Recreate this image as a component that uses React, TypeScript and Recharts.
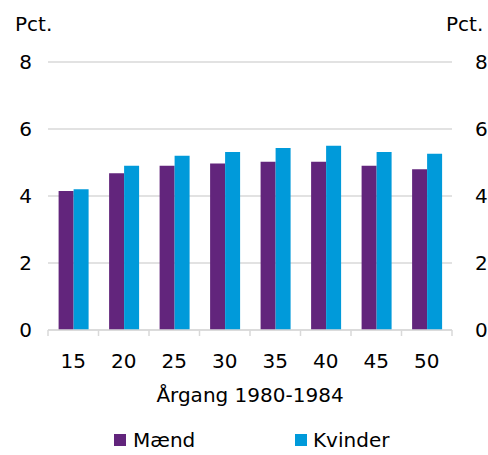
import React from 'react';
import { Bar, BarChart, CartesianGrid, XAxis, YAxis } from 'recharts';

const ages = ['15', '20', '25', '30', '35', '40', '45', '50'];
const maend = [4.15, 4.68, 4.9, 4.97, 5.02, 5.02, 4.9, 4.8];
const kvinder = [4.2, 4.9, 5.2, 5.31, 5.43, 5.5, 5.31, 5.26];
const yTicks = [0, 2, 4, 6, 8];

const PURPLE = '#62257C';
const BLUE = '#009ADA';
const GRID = '#D9D9D9';
const FONT = '"DejaVu Sans", Verdana, sans-serif';

const data = ages.map((age, i) => ({ age, Mænd: maend[i], Kvinder: kvinder[i] }));

const AgeTick = (props: any) => {
  const { x, y, payload, index } = props;
  const half = 404 / ages.length / 2;
  return <g>
    <line x1={x - half} x2={x - half} y1={y} y2={y + 6} stroke={GRID} strokeWidth={1.5}/>
    {index === ages.length - 1 &&
      <line x1={x + half} x2={x + half} y1={y} y2={y + 6} stroke={GRID} strokeWidth={1.5}/>}
    <text x={x} y={y + 38} textAnchor="middle" fill="#000" fontSize={20} fontFamily={FONT}>{payload.value}</text>
  </g>;
};

const txt: React.CSSProperties = { position: 'absolute', fontFamily: FONT, fontSize: 20, color: '#000', whiteSpace: 'nowrap', lineHeight: '24px' };

export default function App() {
  return <div style={{ position: 'absolute', left: 0, top: 0, width: 488, height: 455, background: '#fff', overflow: 'hidden' }}>
    <BarChart width={488} height={455} data={data} margin={{ top: 62, right: 0, bottom: 0, left: 0 }}
      barCategoryGap="21%" barGap={0}>
      <CartesianGrid vertical={false} stroke={GRID} strokeWidth={1.5} yAxisId="left"/>
      <XAxis dataKey="age" height={125} tick={<AgeTick/>} tickLine={false} tickSize={0} tickMargin={0}
        axisLine={{ stroke: GRID, strokeWidth: 1.5 }} interval={0}/>
      <YAxis yAxisId="left" orientation="left" width={48} domain={[0, 8]} ticks={yTicks}
        axisLine={false} tickLine={false} tickSize={0} tickMargin={16}
        tick={{ fill: '#000', fontSize: 20, fontFamily: FONT }}/>
      <YAxis yAxisId="right" orientation="right" width={36} domain={[0, 8]} ticks={yTicks}
        axisLine={false} tickLine={false} tickSize={0} tickMargin={23}
        tick={{ fill: '#000', fontSize: 20, fontFamily: FONT }}/>
      <Bar yAxisId="left" dataKey="Mænd" fill={PURPLE} isAnimationActive={false}/>
      <Bar yAxisId="right" dataKey="Kvinder" fill={BLUE} isAnimationActive={false}/>
    </BarChart>
    <div style={{ ...txt, left: 15, top: 12 }}>Pct.</div>
    <div style={{ ...txt, left: 446, top: 12 }}>Pct.</div>
    <div style={{ ...txt, left: 0, width: 500, textAlign: 'center', top: 383 }}>Årgang 1980-1984</div>
    <div style={{ ...txt, left: 114, top: 428, display: 'flex', alignItems: 'center' }}>
      <span style={{ display: 'inline-block', width: 12, height: 12, background: PURPLE, marginRight: 7 }}/>Mænd
    </div>
    <div style={{ ...txt, left: 295, top: 428, display: 'flex', alignItems: 'center' }}>
      <span style={{ display: 'inline-block', width: 12, height: 12, background: BLUE, marginRight: 6 }}/>Kvinder
    </div>
  </div>;
}
